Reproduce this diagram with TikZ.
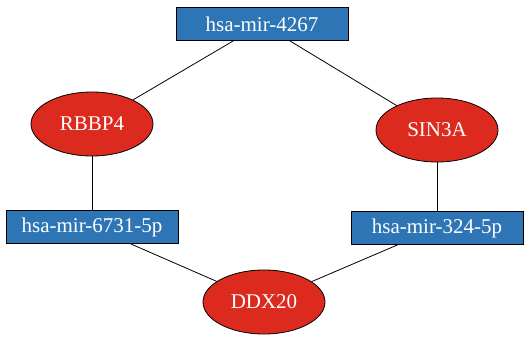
\documentclass[tikz,border=0pt]{standalone}
\usepackage{fontspec}
\setmainfont{Liberation Serif}
\usepackage{tikz}
\usetikzlibrary{positioning,shapes.geometric}

\definecolor{mirblue}{RGB}{46,117,182}
\definecolor{genered}{RGB}{220,42,30}

\tikzset{
  mirna/.style={rectangle, draw=black, fill=mirblue, text=white, line width=0.8pt,
    minimum width=172pt, minimum height=33pt, inner sep=0pt, font=\fontsize{21}{25}\selectfont},
  gene/.style={ellipse, draw=black, fill=genered, text=white, line width=0.8pt,
    minimum width=122pt, minimum height=64pt, inner sep=0pt, font=\fontsize{21}{25}\selectfont},
  link/.style={line width=0.8pt}
}

\begin{document}
\begin{tikzpicture}[x=1pt, y=-1pt]
		\useasboundingbox (0,0) rectangle (529,342);

		\node (mir4267) [mirna] at (262,24) {hsa-mir-4267};
		\node (rbbp4) [gene] at (92,124) {RBBP4};
		\node (sin3a) [gene] at (437,130) {SIN3A};
		\node (mir6731) [mirna] at (92,227) {hsa-mir-6731-5p};
		\node (mir324) [mirna] at (437,228) {hsa-mir-324-5p};
		\node (ddx20) [gene] at (264,302) {DDX20};

		\draw[link] (mir4267) -- (rbbp4);
		\draw[link] (mir4267) -- (sin3a);
		\draw[link] (rbbp4) -- (mir6731);
		\draw[link] (sin3a) -- (mir324);
		\draw[link] (mir6731) -- (ddx20);
		\draw[link] (mir324) -- (ddx20);

	\end{tikzpicture}
\end{document}
